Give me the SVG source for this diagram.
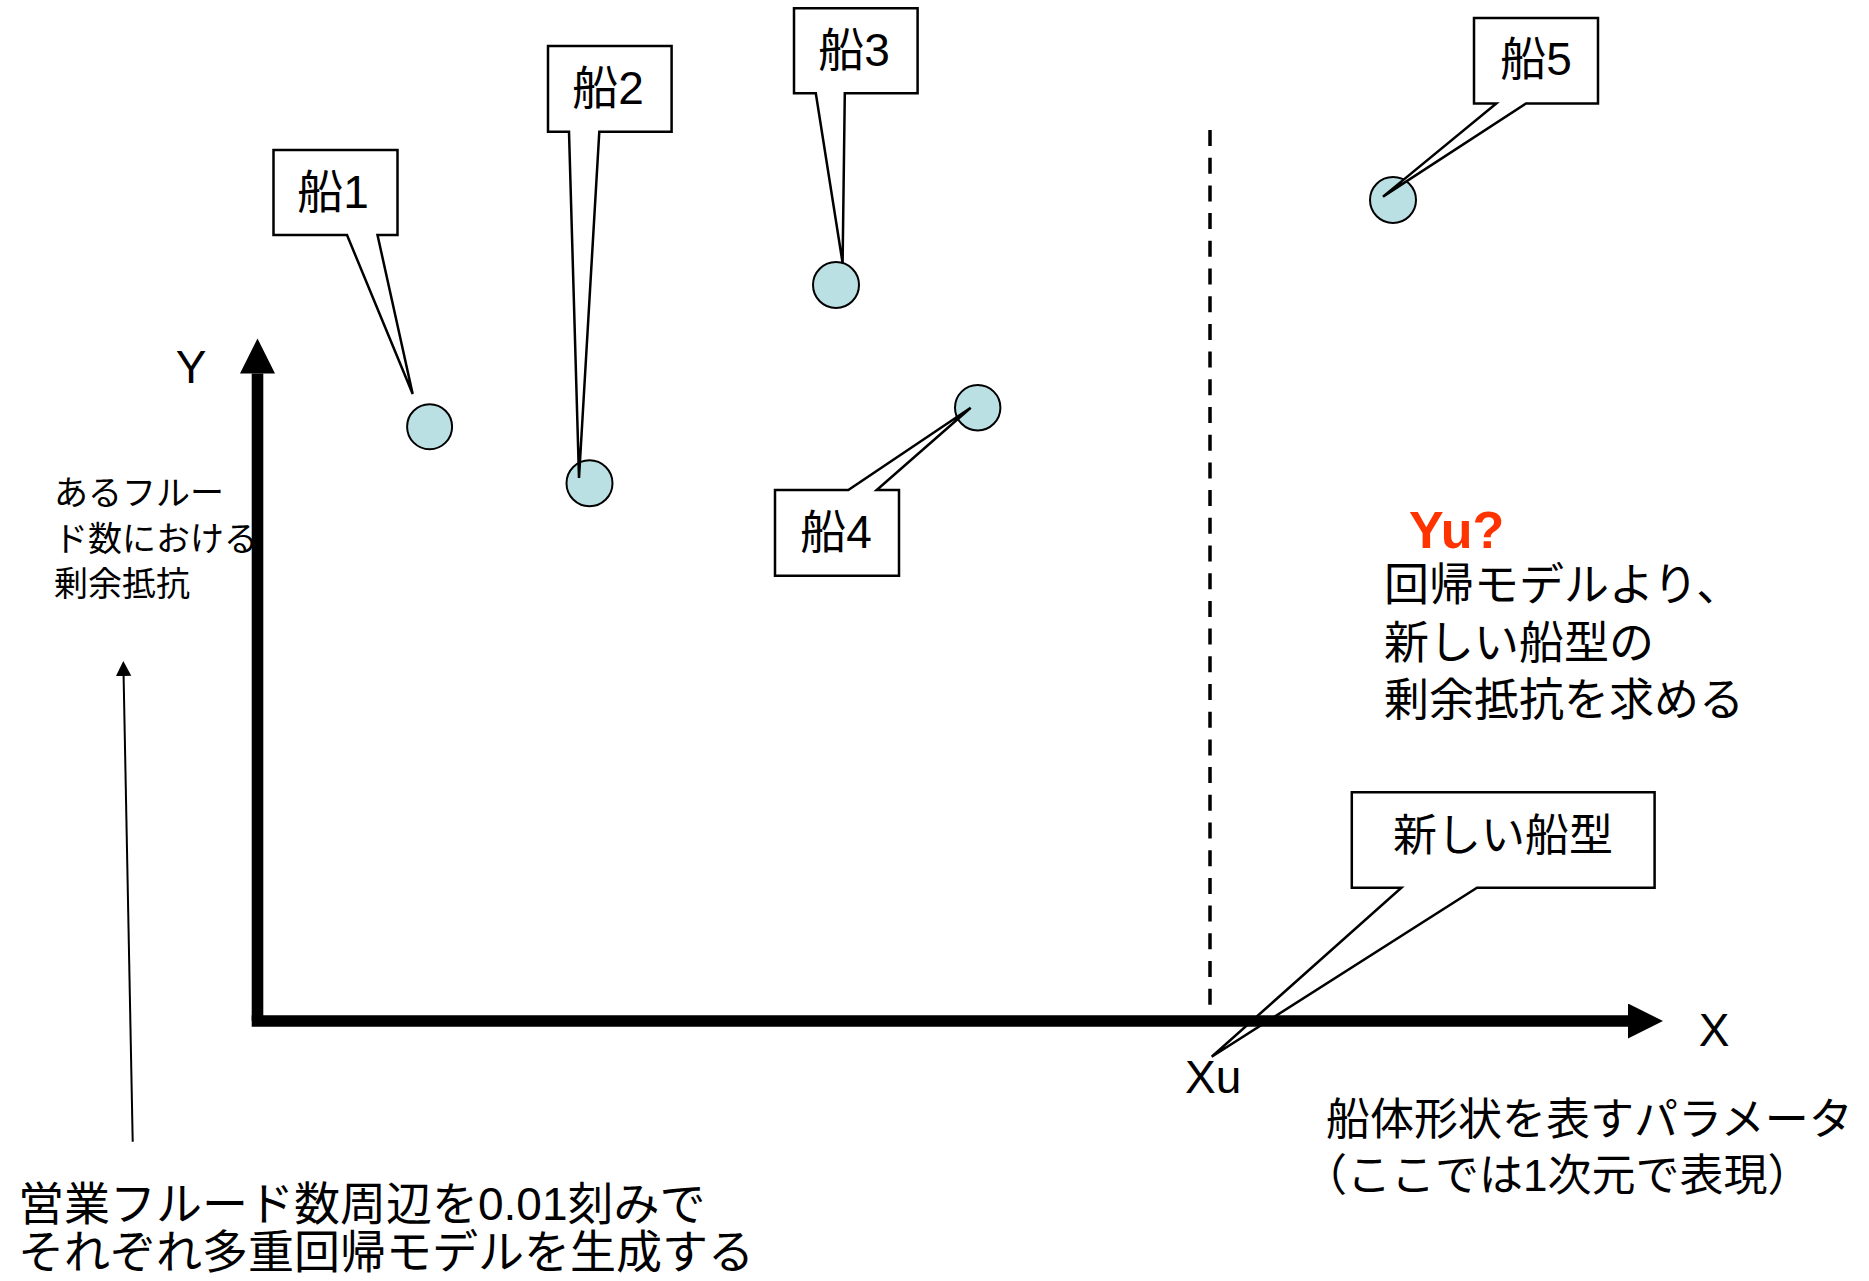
<svg xmlns="http://www.w3.org/2000/svg" width="1869" height="1281" viewBox="0 0 1869 1281">
<style>
  .bg { fill: #ffffff; }
  .callout { fill: #ffffff; stroke: #000000; stroke-width: 2.5; stroke-linejoin: miter; }
  .pt { fill: #BBE0E3; stroke: #000000; stroke-width: 2; }
  .lbl { font-family: "Liberation Sans", "Noto Sans CJK JP", sans-serif; fill: #000000; }
  .jp { font-family: "Noto Sans CJK JP", sans-serif; fill: #000000; }
  .axis { stroke: #000000; stroke-width: 11.6; fill: none; }
  .dash { stroke: #000000; stroke-width: 3.5; stroke-dasharray: 16 11.7; fill: none; }
  .thin { stroke: #000000; stroke-width: 2; fill: none; }
  .red { font-family: "Liberation Sans", sans-serif; font-weight: bold; fill: #FF3300; }
</style>
<defs>
  <marker id="bigArrow" markerUnits="userSpaceOnUse" markerWidth="36" markerHeight="36" refX="0" refY="17.5" orient="auto">
    <path d="M0,0 L35,17.5 L0,35 Z" fill="#000000"/>
  </marker>
  <marker id="smallArrow" markerUnits="userSpaceOnUse" markerWidth="16" markerHeight="16" refX="0" refY="7.7" orient="auto">
    <path d="M0,0 L15,7.7 L0,15.4 Z" fill="#000000"/>
  </marker>
</defs>
<rect class="bg" x="0" y="0" width="1869" height="1281"/>

<g id="callout-new-shape">
  <path class="callout" d="M1351.8,792.3 H1654.6 V887.7 H1477 L1211.7,1056.7 L1401.4,887.7 H1351.8 Z"/>
  <text class="jp" x="1503" y="851" font-size="44" text-anchor="middle">新しい船型</text>
</g>

<g id="connectors">
  <line class="dash" x1="1210" y1="130" x2="1210" y2="1016"/>
  <line class="axis" x1="257.5" y1="1021" x2="257.5" y2="373.5" marker-end="url(#bigArrow)"/>
  <line class="axis" x1="251.7" y1="1021" x2="1628" y2="1021" marker-end="url(#bigArrow)"/>
  <line class="thin" x1="132.7" y1="1141.7" x2="123.6" y2="676" marker-end="url(#smallArrow)"/>
</g>

<g id="point-1"><circle class="pt" cx="429.6" cy="426.7" r="22.5"/></g>
<g id="point-2"><circle class="pt" cx="589.5" cy="483.3" r="23"/></g>
<g id="point-3"><circle class="pt" cx="836" cy="285" r="23"/></g>
<g id="point-4"><circle class="pt" cx="977.7" cy="407.7" r="22.7"/></g>
<g id="point-5"><circle class="pt" cx="1393" cy="200" r="23"/></g>

<g id="callout-ship1">
  <path class="callout" d="M273.5,150 H397.5 V235 H377.5 L412.7,394 L347,235 H273.5 Z"/>
  <text class="lbl" x="333" y="208" font-size="46" text-anchor="middle">船1</text>
</g>
<g id="callout-ship2">
  <path class="callout" d="M548,46 H671.6 V131.7 H599.3 L579,478 L569,131.7 H548 Z"/>
  <text class="lbl" x="608" y="104" font-size="46" text-anchor="middle">船2</text>
</g>
<g id="callout-ship3">
  <path class="callout" d="M794,8.3 H917.6 V93.3 H844.8 L842.6,263 L815.8,93.3 H794 Z"/>
  <text class="lbl" x="854" y="66" font-size="46" text-anchor="middle">船3</text>
</g>
<g id="callout-ship4">
  <path class="callout" d="M775,490 H848.3 L970.7,407.7 L876.7,490 H899 V575.7 H775 Z"/>
  <text class="lbl" x="836" y="548" font-size="46" text-anchor="middle">船4</text>
</g>
<g id="callout-ship5">
  <path class="callout" d="M1474,18 H1598 V103.4 H1526 L1383,196.6 L1496.3,103.4 H1474 Z"/>
  <text class="lbl" x="1536" y="75" font-size="46" text-anchor="middle">船5</text>
</g>

<g id="label-y">
  <text class="lbl" x="191" y="383" font-size="46" text-anchor="middle">Y</text>
</g>
<g id="label-x">
  <text class="lbl" x="1714" y="1046" font-size="46" text-anchor="middle">X</text>
</g>
<g id="label-xu">
  <text class="lbl" x="1185" y="1093" font-size="46">Xu</text>
</g>
<g id="label-y-desc">
  <text class="lbl" x="54" y="505" font-size="34">あるフルー</text>
  <text class="lbl" x="54" y="551" font-size="34">ド数における</text>
  <text class="lbl" x="54" y="596" font-size="34">剰余抵抗</text>
</g>
<g id="label-yu">
  <text class="red" x="1409" y="548" font-size="52">Yu?</text>
</g>
<g id="label-regression">
  <text class="lbl" x="1384" y="601" font-size="45">回帰モデルより、</text>
  <text class="lbl" x="1384" y="659" font-size="45">新しい船型の</text>
  <text class="lbl" x="1384" y="716" font-size="45">剰余抵抗を求める</text>
</g>
<g id="label-x-desc">
  <text class="lbl" x="1326" y="1135" font-size="44">船体形状を表すパラメータ</text>
  <text class="lbl" x="1303" y="1191" font-size="44">（ここでは1次元で表現）</text>
</g>
<g id="label-bottom">
  <text class="lbl" x="18" y="1220" font-size="46">営業フルード数周辺を0.01刻みで</text>
  <text class="lbl" x="18" y="1268" font-size="46">それぞれ多重回帰モデルを生成する</text>
</g>
</svg>
